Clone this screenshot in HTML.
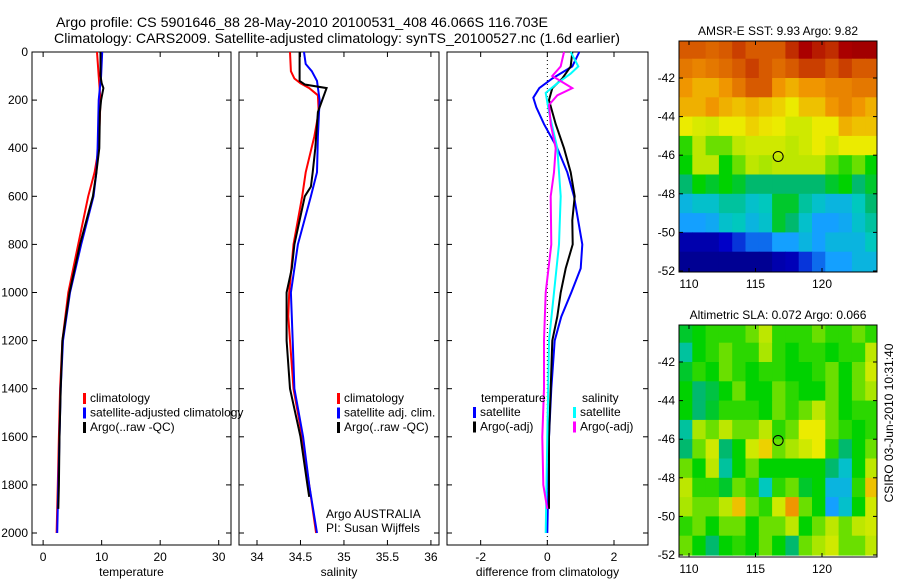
<!DOCTYPE html>
<html><head><meta charset="utf-8"><style>
html,body{margin:0;padding:0;background:#fff;}
svg{display:block;font-family:"Liberation Sans",sans-serif;}
</style></head><body>
<svg id="fig" width="900" height="580" viewBox="0 0 900 580">
<text x="56" y="27" font-size="14" textLength="492" lengthAdjust="spacingAndGlyphs">Argo profile: CS 5901646_88 28-May-2010 20100531_408 46.066S 116.703E</text>
<text x="54" y="43" font-size="14" textLength="566" lengthAdjust="spacingAndGlyphs">Climatology: CARS2009. Satellite-adjusted climatology: synTS_20100527.nc (1.6d earlier)</text>
<g id="layer"></g>
</svg>
<script>
// ---- depth grids ----
const tDepth = [0,100,200,400,500,600,800,1000,1200,1400,1600,1800,2000];
const tClim  = [9.2,9.5,9.8,9.5,8.8,7.7,6.0,4.3,3.3,2.9,2.7,2.5,2.3];
const tSat   = [10.1,9.9,9.5,9.3,9.1,8.6,6.5,4.6,3.4,3.0,2.8,2.6,2.4];
const tArgoDepth = [0,100,130,150,200,250,400,500,600,800,1000,1200,1400,1600,1800,1900];
const tArgo  = [9.8,9.8,10.0,10.3,9.9,9.7,9.6,9.1,8.5,6.3,4.5,3.3,3.0,2.8,2.7,2.6];

const sClimDepth = [0,80,110,130,150,180,250,350,500,600,800,1000,1100,1200,1400,1600,1800,2000];
const sClim = [34.38,34.39,34.43,34.5,34.6,34.7,34.71,34.66,34.56,34.52,34.42,34.37,34.36,34.38,34.42,34.52,34.6,34.68];
const sSatDepth = [0,50,80,120,200,350,500,600,800,1000,1200,1400,1600,1800,2000];
const sSat = [34.54,34.56,34.63,34.69,34.72,34.7,34.69,34.62,34.47,34.39,34.41,34.43,34.53,34.6,34.69];
const sArgoDepth = [0,120,135,150,200,250,400,500,560,600,800,900,1000,1200,1400,1600,1800,1850];
const sArgo = [34.49,34.49,34.55,34.8,34.75,34.7,34.67,34.64,34.62,34.55,34.43,34.4,34.34,34.34,34.38,34.5,34.58,34.6];

const dDepth = [0,60,110,150,190,230,300,400,500,600,800,900,1000,1100,1200,1400,1600,1800,2000];
const dTSat  = [0.96,0.75,0.15,-0.24,-0.42,-0.33,-0.1,0.3,0.6,0.8,1.05,1.0,0.72,0.42,0.22,0.12,0.05,0.03,0.0];
const dTArgoDepth = [0,60,110,150,200,300,400,500,600,700,800,900,1000,1100,1200,1400,1600,1900];
const dTArgo = [0.75,0.7,0.45,0.15,0.05,0.25,0.5,0.7,0.82,0.75,0.76,0.55,0.4,0.3,0.15,0.1,0.05,0.05];
const dSSatDepth = [0,60,90,130,170,250,400,600,800,1000,1200,1600,2000];
const dSSat = [0.7,0.93,0.7,0.3,-0.05,0.05,0.3,0.4,0.35,0.2,0.05,0.0,-0.05];
const dSArgoDepth = [0,60,100,150,180,220,300,400,500,600,800,1000,1200,1400,1600,1800,1900];
const dSArgo = [0.5,0.4,0.15,0.75,0.3,0.05,0.1,0.25,0.2,0.1,0.12,-0.05,-0.1,-0.1,-0.15,-0.12,0.0];

// ---- map grids (rows -40.5 .. -51.5, cols 109.75 .. 123.75), colour index 0..1 ----
const sstGrid = [
[0.85,0.85,0.83,0.85,0.88,0.85,0.85,0.85,0.9,0.95,0.92,0.9,0.95,0.97,0.97],
[0.8,0.78,0.8,0.82,0.85,0.88,0.85,0.82,0.85,0.88,0.88,0.85,0.88,0.85,0.85],
[0.75,0.72,0.72,0.75,0.8,0.85,0.85,0.75,0.72,0.75,0.75,0.78,0.78,0.8,0.8],
[0.72,0.72,0.75,0.72,0.7,0.72,0.7,0.68,0.65,0.7,0.7,0.75,0.78,0.75,0.72],
[0.65,0.63,0.62,0.65,0.65,0.68,0.66,0.65,0.62,0.62,0.65,0.65,0.72,0.7,0.7],
[0.52,0.6,0.55,0.55,0.6,0.62,0.62,0.62,0.6,0.62,0.65,0.62,0.65,0.65,0.65],
[0.5,0.6,0.6,0.5,0.55,0.6,0.58,0.6,0.6,0.6,0.6,0.55,0.52,0.55,0.5],
[0.45,0.5,0.48,0.5,0.48,0.45,0.45,0.45,0.45,0.45,0.45,0.48,0.5,0.45,0.48],
[0.35,0.38,0.38,0.42,0.42,0.38,0.4,0.48,0.48,0.42,0.38,0.35,0.35,0.4,0.45],
[0.3,0.3,0.32,0.38,0.4,0.35,0.38,0.48,0.45,0.38,0.3,0.3,0.32,0.38,0.42],
[0.1,0.1,0.1,0.15,0.2,0.25,0.25,0.3,0.3,0.35,0.3,0.35,0.35,0.35,0.4],
[0.05,0.05,0.05,0.05,0.05,0.05,0.05,0.1,0.12,0.2,0.25,0.3,0.3,0.35,0.35]];
const slaGrid = [
[0.48,0.5,0.52,0.52,0.52,0.55,0.6,0.52,0.52,0.52,0.55,0.52,0.52,0.55,0.52],
[0.42,0.5,0.52,0.55,0.52,0.52,0.58,0.52,0.5,0.52,0.52,0.5,0.52,0.52,0.6],
[0.48,0.52,0.5,0.55,0.52,0.5,0.52,0.52,0.5,0.5,0.52,0.55,0.5,0.55,0.62],
[0.5,0.45,0.47,0.5,0.55,0.5,0.5,0.55,0.52,0.5,0.5,0.55,0.5,0.55,0.58],
[0.5,0.45,0.48,0.52,0.52,0.52,0.5,0.55,0.52,0.55,0.6,0.55,0.5,0.52,0.52],
[0.42,0.58,0.55,0.6,0.55,0.55,0.6,0.52,0.55,0.65,0.65,0.55,0.52,0.5,0.52],
[0.45,0.55,0.62,0.45,0.5,0.62,0.68,0.55,0.58,0.62,0.65,0.52,0.45,0.5,0.55],
[0.55,0.5,0.6,0.42,0.5,0.55,0.5,0.5,0.5,0.5,0.5,0.45,0.38,0.5,0.6],
[0.6,0.52,0.52,0.48,0.55,0.52,0.4,0.52,0.55,0.48,0.5,0.35,0.35,0.52,0.7],
[0.58,0.55,0.55,0.6,0.7,0.55,0.52,0.62,0.75,0.55,0.5,0.3,0.38,0.5,0.62],
[0.52,0.55,0.5,0.55,0.55,0.5,0.55,0.55,0.6,0.5,0.55,0.6,0.55,0.6,0.62],
[0.55,0.5,0.45,0.5,0.52,0.5,0.55,0.5,0.45,0.55,0.58,0.62,0.55,0.55,0.6]];
const mapLon0 = 109.25, mapLat0 = -40;
const argoLon = 116.703, argoLat = -46.066;
const lonTicks = [110,115,120];
const latTicks = [-42,-44,-46,-48,-50,-52];
const depthTicks = [0,200,400,600,800,1000,1200,1400,1600,1800,2000];
const tTicks = [0,10,20,30];
const sTicks = [34,34.5,35,35.5,36];
const dTicks = [-2,0,2];

const NS='http://www.w3.org/2000/svg';
const layer=document.getElementById('layer');
function mk(tag,attrs,parent){const e=document.createElementNS(NS,tag);for(const k in attrs)e.setAttribute(k,attrs[k]);(parent||layer).appendChild(e);return e;}
function txt(x,y,s,size,anchor,parent){const e=mk('text',{x:x,y:y,'font-size':size||12,'text-anchor':anchor||'start'},parent);e.textContent=s;return e;}

const pTop=52,pBot=545;
const yD=d=>pTop+d*0.2405;
function panel(name,x0,x1,vmin,vmax,ticks,xlabel,showDepth){
  const g=mk('g',{});
  
  
  const xs=v=>x0+(v-vmin)/(vmax-vmin)*(x1-x0);
  mk('rect',{x:x0,y:pTop,width:x1-x0,height:pBot-pTop,fill:'none',stroke:'#000','stroke-width':1},g);
  ticks.forEach(t=>{const x=xs(t);
    mk('line',{x1:x,x2:x,y1:pBot,y2:pBot-5,stroke:'#000'},g);
    mk('line',{x1:x,x2:x,y1:pTop,y2:pTop+5,stroke:'#000'},g);
    const l=txt(x,pBot+16,String(t),12,'middle',g);
    
    });
  depthTicks.forEach(d=>{const y=yD(d);
    mk('line',{x1:x0,x2:x0+5,y1:y,y2:y,stroke:'#000'},g);
    mk('line',{x1:x1,x2:x1-5,y1:y,y2:y,stroke:'#000'},g);
    if(showDepth){const l=txt(x0-4,y+4,String(d),12,'end',g);
      
      }});
  const xl=txt((x0+x1)/2,pBot+31,xlabel,12,'middle',g);
  
  
  return {g,xs};
}
function line(p,depths,vals,color,name){
  const pts=depths.map((d,i)=>p.xs(vals[i]).toFixed(1)+','+yD(d).toFixed(1)).join(' ');
  const e=mk('polyline',{points:pts,fill:'none',stroke:color,'stroke-width':2},p.g);
  
  
}
function legend(g,x,y,items){
  items.forEach((it,i)=>{
    const r=mk('rect',{x:x,y:y+i*14.5-9,width:3,height:11,fill:it[0]},g);
    
    
    const t=txt(x+7,y+i*14.5,it[1],12,'start',g);
    
    
  });
}
// temperature
const pT=panel('temperature-panel',32,231,-1.9,32.1,tTicks,'temperature',true);
line(pT,tDepth,tClim,'#f00','temp-climatology-line');
line(pT,tDepth,tSat,'#00f','temp-satellite-line');
line(pT,tArgoDepth,tArgo,'#000','temp-argo-line');
legend(pT.g,83,402,[['#f00','climatology'],['#00f','satellite-adjusted climatology'],['#000','Argo(..raw -QC)']]);
// salinity
const pS=panel('salinity-panel',239,439,33.793,36.093,sTicks,'salinity',false);
line(pS,sClimDepth,sClim,'#f00','sal-climatology-line');
line(pS,sSatDepth,sSat,'#00f','sal-satellite-line');
line(pS,sArgoDepth,sArgo,'#000','sal-argo-line');
legend(pS.g,337,402,[['#f00','climatology'],['#00f','satellite adj. clim.'],['#000','Argo(..raw -QC)']]);
const a1=txt(326,518,'Argo AUSTRALIA',12,'start',pS.g);
const a2=txt(326,532,'PI: Susan Wijffels',12,'start',pS.g);
// difference
const pD=panel('difference-panel',447,648,-3.01,3.02,dTicks,'difference from climatology',false);
mk('line',{x1:pD.xs(0),x2:pD.xs(0),y1:pTop,y2:pBot,stroke:'#000','stroke-dasharray':'1,3'},pD.g);
line(pD,dDepth,dTSat,'#00f','diff-temp-satellite-line');
line(pD,dTArgoDepth,dTArgo,'#000','diff-temp-argo-line');
line(pD,dSSatDepth,dSSat,'#0ff','diff-sal-satellite-line');
line(pD,dSArgoDepth,dSArgo,'#f0f','diff-sal-argo-line');
txt(481,402,'temperature',12,'start',pD.g);
txt(582,402,'salinity',12,'start',pD.g);
legend(pD.g,473,416,[['#00f','satellite'],['#000','Argo(-adj)']]);
legend(pD.g,573,416,[['#0ff','satellite'],['#f0f','Argo(-adj)']]);

// colormap stops (sampled from reference)
const cmap=[[0,[0,0,120]],[0.15,[0,0,200]],[0.3,[20,160,255]],[0.4,[0,200,190]],[0.45,[0,185,110]],[0.5,[0,210,0]],[0.58,[170,230,0]],[0.65,[235,235,0]],[0.75,[240,150,0]],[0.85,[215,90,0]],[0.95,[170,0,0]],[1,[150,0,0]]];
function jet(v){v=Math.max(0,Math.min(1,v));
  for(let i=1;i<cmap.length;i++){if(v<=cmap[i][0]){const a=cmap[i-1],b=cmap[i];const f=(v-a[0])/(b[0]-a[0]);
    const c=a[1].map((x,k)=>Math.round(x+(b[1][k]-x)*f));return `rgb(${c[0]},${c[1]},${c[2]})`;}}
  return 'rgb(150,0,0)';}
function map(name,grid,x0,x1,y0,y1,title,yLat42){
  const g=mk('g',{});
  
  
  const pxLon=13.3,pxLat=19.3;
  const xs=lon=>689+(lon-110)*pxLon;
  const ys=lat=>yLat42+(-42-lat)*pxLat;
  const clip='clip'+name;
  const cp=mk('clipPath',{id:clip},g);mk('rect',{x:x0,y:y0,width:x1-x0,height:y1-y0},cp);
  const cg=mk('g',{'clip-path':`url(#${clip})`},g);
  grid.forEach((row,i)=>row.forEach((v,j)=>{
    const xa=xs(mapLon0+j), ya=ys(mapLat0-i);
    const c=mk('rect',{x:xa.toFixed(1),y:ya.toFixed(1),width:(pxLon+0.6).toFixed(1),height:(pxLat+0.6).toFixed(1),fill:jet(v)},cg);
    
    
  }));
  mk('rect',{x:x0,y:y0,width:x1-x0,height:y1-y0,fill:'none',stroke:'#000'},g);
  lonTicks.forEach(l=>{const x=xs(l);mk('line',{x1:x,x2:x,y1:y1,y2:y1-4,stroke:'#000'},g);mk('line',{x1:x,x2:x,y1:y0,y2:y0+4,stroke:'#000'},g);
    const t=txt(x,y1+16,String(l),12,'middle',g);});
  latTicks.forEach(l=>{const y=ys(l);mk('line',{x1:x0,x2:x0+4,y1:y,y2:y,stroke:'#000'},g);mk('line',{x1:x1,x2:x1-4,y1:y,y2:y,stroke:'#000'},g);
    const t=txt(x0-4,y+4,String(l),12,'end',g);});
  const c=mk('circle',{cx:xs(argoLon),cy:ys(argoLat),r:5,fill:'none',stroke:'#000'},g);
  
  
  const tt=txt((x0+x1)/2,y0-6,title,12,'middle',g);
  
  
  return g;
}
map('sst-map',sstGrid,679,877,41,272,'AMSR-E SST: 9.93 Argo: 9.82',78);
const g2=map('sla-map',slaGrid,679,877,325,557,'Altimetric SLA: 0.072 Argo: 0.066',362);
const cr=txt(0,0,'CSIRO 03-Jun-2010 10:31:40',12,'middle',g2);
cr.setAttribute('transform','translate(893,423) rotate(-90)');


</script>
</body></html>
